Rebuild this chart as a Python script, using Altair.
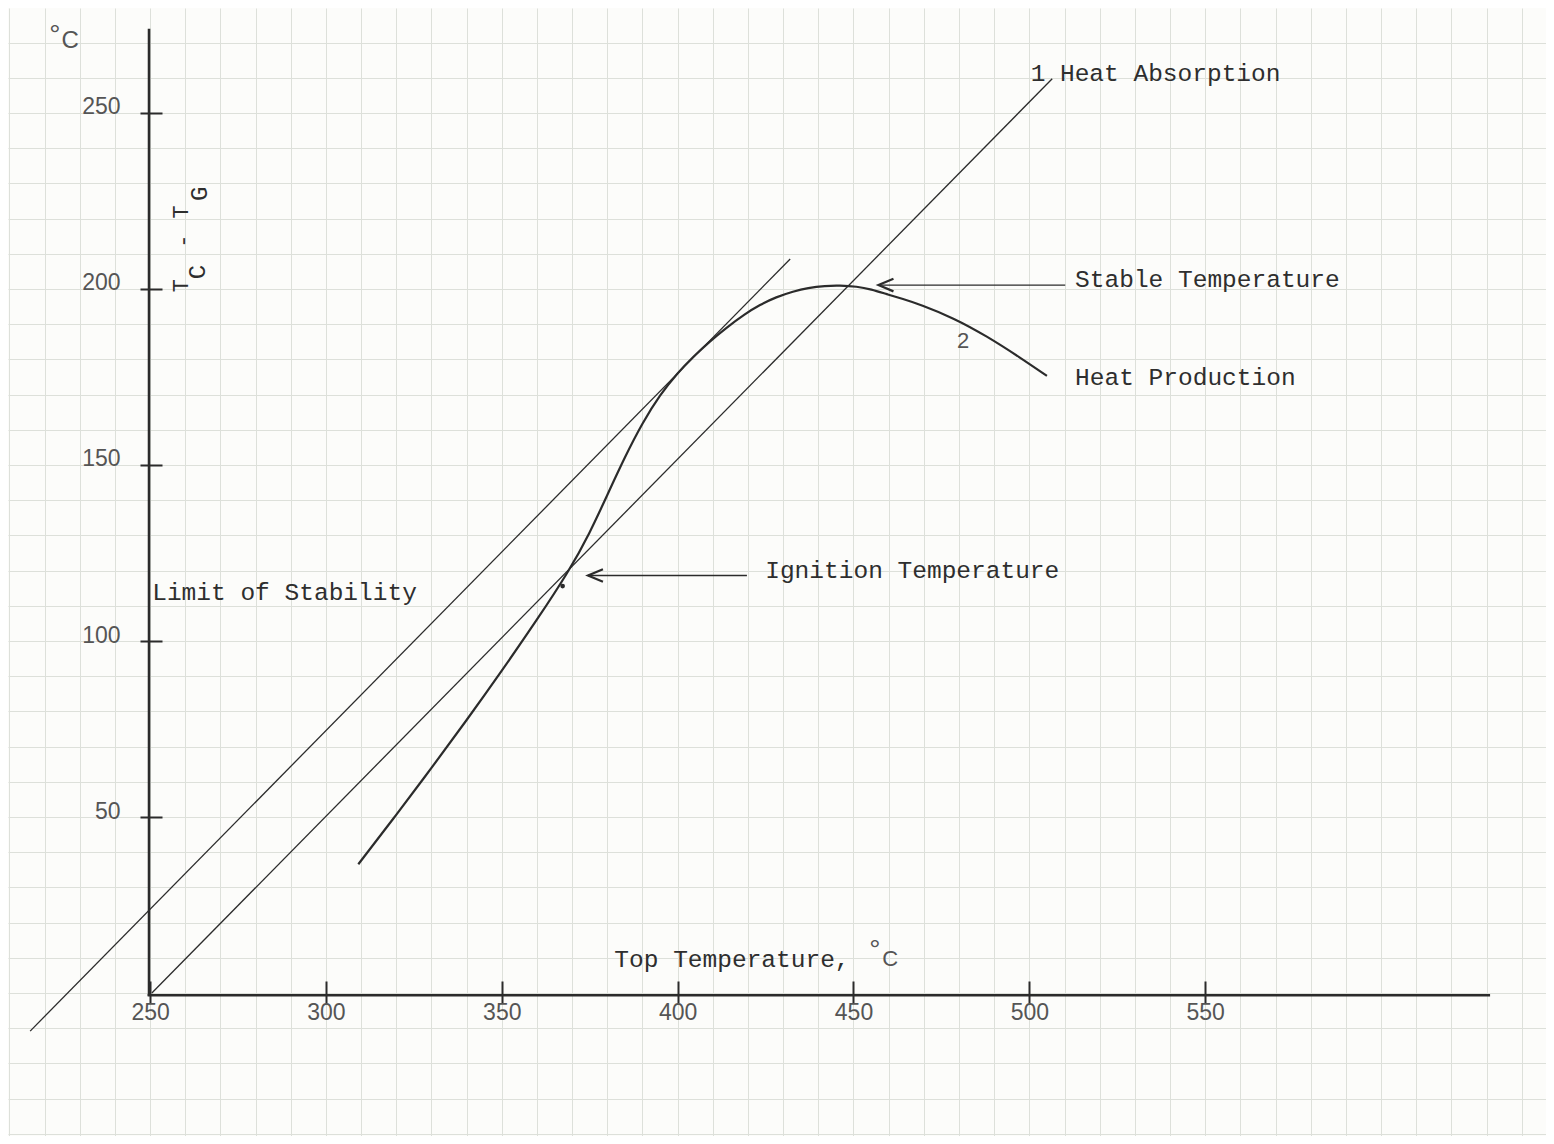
import altair as alt
import pandas as pd

# ---- data ----
# Line 1: heat absorption
absorb_x = [250.5, 506.5]
absorb_y = [0.0, 259.7]
# Parallel tangent line (limit of stability)
tangent_x = [215.9, 432.0]
tangent_y = [-10.8, 208.5]
# Curve 2: heat production
prod_x = [309.2, 320.0, 330.0, 340.0, 350.0, 360.0, 368.9, 375.0, 380.0, 385.0,
          390.0, 395.0, 400.0, 404.5, 409.0, 414.0, 419.0, 423.4, 428.0, 432.9,
          437.0, 442.0, 446.0, 451.0, 455.0, 459.5, 464.0, 468.9, 478.4, 487.9,
          497.4, 505.0]
prod_y = [36.6, 50.6, 63.9, 77.5, 91.5, 106.0, 119.5, 130.6, 141.5, 152.3,
          162.0, 170.0, 176.2, 180.8, 185.0, 189.1, 192.8, 195.5, 197.7, 199.3,
          200.3, 200.9, 201.0, 200.7, 199.9, 198.5, 197.2, 195.6, 191.8, 186.6,
          180.5, 175.3]
# ignition point marker
ign_pt_x = [367.3]
ign_pt_y = [115.6]

x_ticks = [250, 300, 350, 400, 450, 500, 550]
y_ticks = [50, 100, 150, 200, 250]
grid_x = list(range(210, 650, 10))
grid_y = list(range(-40, 290, 10))

# annotations
mono_text = ["1", "Heat Absorption", "Stable Temperature", "Heat Production",
             "Ignition Temperature", "Limit of Stability", "Top Temperature,"]
mono_x = [500.4, 508.7, 513.0, 513.0, 424.9, 250.6, 382.0]
mono_y = [261.0, 261.0, 202.6, 174.7, 119.9, 113.6, 9.3]

rot_text = ["T", "C", "-", "T", "G"]
rot_x = [258.8, 263.6, 259.4, 258.8, 264.1]
rot_y = [200.9, 204.8, 213.6, 221.9, 227.0]
rot_size = [22, 24, 22, 22, 24]

let_text = ["C", "C", "2"]
let_x = [227.3, 460.4, 481.2]
let_y = [270.5, 9.7, 185.2]
let_size = [24, 22, 22]

deg_x = [222.9, 456.1]
deg_y = [269.5, 9.8]

# arrows: tip and tail, y
arrow_tip = [457.1, 374.5]
arrow_tail = [510.2, 419.7]
arrow_y = [201.1, 118.6]

# ---- build ----
W, H = 1538, 1128
sx = alt.Scale(domain=[209.6, 646.9], nice=False, zero=False)
sy = alt.Scale(domain=[-40.6, 279.8], nice=False, zero=False)
INK = "#2b2b2b"
MONO = "Liberation Mono"
LET = "Liberation Sans"
GRID = "#dde0da"

absorb_df = pd.DataFrame({"x": absorb_x, "y": absorb_y})
tangent_df = pd.DataFrame({"x": tangent_x, "y": tangent_y})
prod_df = pd.DataFrame({"x": prod_x, "y": prod_y})
ign_df = pd.DataFrame({"x": ign_pt_x, "y": ign_pt_y})
mono_df = pd.DataFrame({"t": mono_text, "x": mono_x, "y": mono_y})
rot_df = pd.DataFrame({"t": rot_text, "x": rot_x, "y": rot_y, "s": rot_size})
let_df = pd.DataFrame({"t": let_text, "x": let_x, "y": let_y, "s": let_size})
deg_df = pd.DataFrame({"t": ["°", "°"], "x": deg_x, "y": deg_y})
arrow_df = pd.DataFrame({"tip": arrow_tip, "tail": arrow_tail, "y": arrow_y})

grid_axis_x = alt.Axis(values=grid_x, orient="bottom", grid=True, gridColor=GRID,
                       gridWidth=1, domain=False, ticks=False, labels=False, title="")
grid_axis_y = alt.Axis(values=grid_y, orient="left", grid=True, gridColor=GRID,
                       gridWidth=1, domain=False, ticks=False, labels=False, title="")

lab_axis_x = alt.Axis(values=x_ticks, orient="bottom", offset=-155, grid=False, domain=False,
                      tickSize=22, tickWidth=2, tickColor=INK, labelFont=LET,
                      labelFontSize=23, labelColor="#555555", labelPadding=-2,
                      labelFlush=False, format="d", title="")
lab_axis_y = alt.Axis(values=y_ticks, orient="left", offset=-154, grid=False, domain=False,
                      tickSize=22, tickWidth=2, tickColor=INK, labelFont=LET,
                      labelFontSize=23, labelColor="#555555", labelPadding=20,
                      labelOffset=-6, format="d", title="")

tangent = alt.Chart(tangent_df).mark_line(color=INK, strokeWidth=1.3).encode(
    x=alt.X("x:Q", scale=sx, axis=grid_axis_x),
    y=alt.Y("y:Q", scale=sy, axis=grid_axis_y),
)
absorb = alt.Chart(absorb_df).mark_line(color=INK, strokeWidth=1.3).encode(
    x=alt.X("x:Q", scale=sx, axis=lab_axis_x),
    y=alt.Y("y:Q", scale=sy, axis=lab_axis_y),
)
noax_x = alt.X("x:Q", scale=sx, axis=None)
noax_y = alt.Y("y:Q", scale=sy, axis=None)

prod = alt.Chart(prod_df).mark_line(color=INK, strokeWidth=2.2, interpolate="basis").encode(
    x=noax_x, y=noax_y)
ign = alt.Chart(ign_df).mark_circle(color=INK, size=22, opacity=1).encode(x=noax_x, y=noax_y)

yaxis_line = alt.Chart(ign_df).mark_rule(color=INK, strokeWidth=2.6).encode(
    x=alt.datum(249.7, scale=sx, axis=None), y=alt.datum(-0.8, scale=sy, axis=None),
    y2=alt.datum(273.9))
xaxis_line = alt.Chart(ign_df).mark_rule(color=INK, strokeWidth=2.6).encode(
    x=alt.datum(249.3, scale=sx, axis=None), x2=alt.datum(631.0),
    y=alt.datum(-0.6, scale=sy, axis=None))

arrow_shaft = alt.Chart(arrow_df).mark_rule(color=INK, strokeWidth=1.3).encode(
    x=alt.X("tip:Q", scale=sx, axis=None), x2="tail:Q", y=alt.Y("y:Q", scale=sy, axis=None))
arrow_head = alt.Chart(arrow_df).mark_point(
    shape="M 1 -0.42 L 0 0 L 1 0.42", filled=False, color=INK, strokeWidth=2.2,
    size=900, opacity=1).encode(
    x=alt.X("tip:Q", scale=sx, axis=None), y=alt.Y("y:Q", scale=sy, axis=None))

mono = alt.Chart(mono_df).mark_text(font=MONO, fontSize=24.5, align="left",
                                    baseline="middle", color="#2e2e2e").encode(
    x=noax_x, y=noax_y, text="t:N")
rot = alt.Chart(rot_df).mark_text(font=MONO, align="center", angle=270,
                                  baseline="middle", color="#2e2e2e").encode(
    x=noax_x, y=noax_y, text="t:N", size=alt.Size("s:Q", scale=None, legend=None))
let = alt.Chart(let_df).mark_text(font=LET, align="center", baseline="middle",
                                  color="#555555").encode(
    x=noax_x, y=noax_y, text="t:N", size=alt.Size("s:Q", scale=None, legend=None))
deg = alt.Chart(deg_df).mark_text(font=LET, fontSize=28, align="center",
                                  baseline="alphabetic", color="#555555").encode(
    x=noax_x, y=noax_y, text="t:N")

chart = alt.layer(
    tangent, absorb, prod, ign, yaxis_line, xaxis_line, arrow_shaft, arrow_head,
    mono, rot, let, deg
).resolve_axis(x="independent", y="independent").properties(
    width=W, height=H, padding=0, autosize=alt.AutoSizeParams(type="none"),
    background="#fcfcfa"
).configure_view(stroke=None, fill="#fcfcfa")

chart.save("out.html", embed_options={"renderer": "svg", "actions": False})
